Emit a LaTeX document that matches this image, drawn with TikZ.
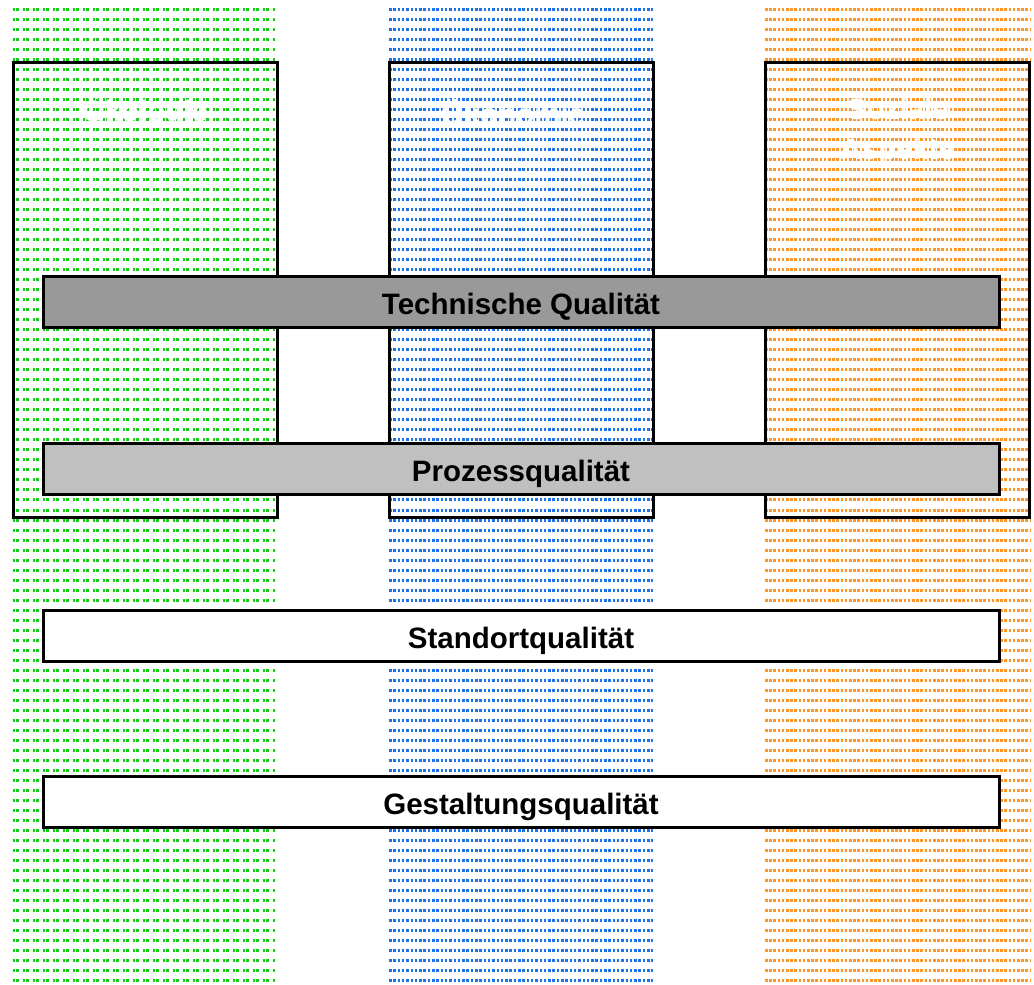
\documentclass[tikz,border=0pt]{standalone}
\usepackage{fontspec}
\setmainfont{Liberation Sans}
\definecolor{ecogreen}{RGB}{20,205,20}
\definecolor{econblue}{RGB}{30,115,235}
\definecolor{socorange}{RGB}{255,150,40}
\definecolor{techgray}{RGB}{153,153,153}
\definecolor{procgray}{RGB}{192,192,192}
\begin{document}
\begin{tikzpicture}[x=1pt,y=-1pt,
  dotsgreen/.style={draw=ecogreen,line width=3pt,dash pattern=on 1.5pt off 1.5pt on 3pt off 4pt},
  dotsblue/.style={draw=econblue,line width=3pt,dash pattern=on 2.5pt off 1.8pt},
  dotsorange/.style={draw=socorange,line width=3pt,dash pattern=on 2.5pt off 1.7pt},
  pillar/.style={draw=black,line width=3pt},
  bar/.style={draw=black,line width=3pt,minimum width=956pt,minimum height=51pt,inner sep=0pt,
    text height=25pt,text depth=0pt,
    font=\fontsize{29.5}{34}\selectfont\bfseries,text=black},
  head/.style={text=white,font=\fontsize{29.5}{40}\selectfont\bfseries,align=center,inner sep=0pt}]
\useasboundingbox (0,0) rectangle (1034,985);
% dotted column backgrounds
\foreach \i in {0,...,97}{
  \pgfmathsetmacro{\yy}{9+\i*10.02}
  \draw[dotsgreen] (13,\yy) -- (275,\yy);
  \draw[dotsblue] (389,\yy) -- (653,\yy);
  \draw[dotsorange] (765,\yy) -- (1030,\yy);
}
% pillar frames
\draw[pillar] (13,62) rectangle (277,517);
\draw[pillar] (389,62) rectangle (653,517);
\draw[pillar] (765,62) rectangle (1029,517);
% pillar headings
\node[head] (eco) at (145,112) {Ökologie};
\node[head] (econ) at (513,112) {Ökonomie};
\node[head] (soc) at (898,132) {Soziale\\Aspekte};
% quality bars
\node[bar,fill=techgray] (tech) at (521,301.5) {Technische Qualität};
\node[bar,fill=procgray] (proc) at (521,469) {Prozessqualität};
\node[bar,fill=white] (site) at (521,635.5) {Standortqualität};
\node[bar,fill=white] (design) at (521,801.5) {Gestaltungsqualität};
\end{tikzpicture}
\end{document}
